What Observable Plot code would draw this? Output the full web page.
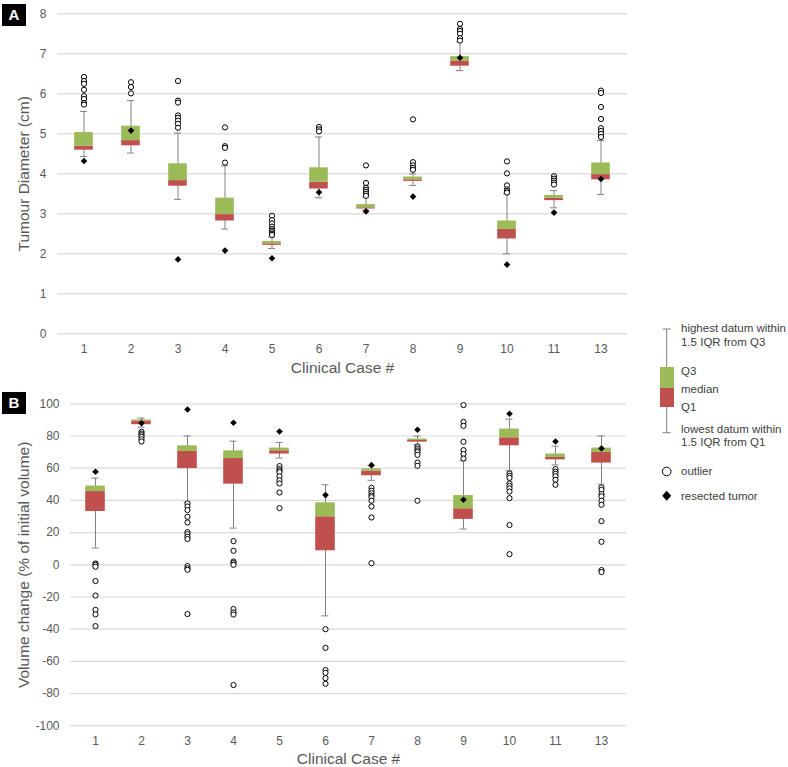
<!DOCTYPE html>
<html><head><meta charset="utf-8">
<script src="https://cdn.jsdelivr.net/npm/d3@7"></script>
<script src="https://cdn.jsdelivr.net/npm/@observablehq/plot@0.6"></script>
<style>
body{margin:0;background:#fff;}
#wrap{position:relative;width:788px;height:767px;font-family:"Liberation Sans",Arial,sans-serif;background:#fff;overflow:hidden;}
#wrap > svg, #wrap > figure{position:absolute;margin:0;}
.tag{position:absolute;left:2px;width:24px;height:22px;background:#000;color:#fff;font:bold 15px "Liberation Sans",Arial,sans-serif;text-align:center;line-height:22px;}
g[aria-label="x-axis label"] text, g[aria-label="y-axis label"] text{font-size:15.5px;}
</style></head><body><div id="wrap"></div>
<script>
// ---- data ----
const cases = ["1","2","3","4","5","6","7","8","9","10","11","13"];

// Panel A: tumour diameter (cm)
const diamQ1       = [4.59,4.70,3.69,2.82,2.21,3.62,3.12,3.81,6.69,2.37,3.33,3.85];
const diamMedian   = [4.69,4.83,3.83,2.98,2.25,3.79,3.15,3.85,6.82,2.61,3.39,3.98];
const diamQ3       = [5.03,5.19,4.25,3.39,2.31,4.15,3.23,3.92,6.93,2.82,3.46,4.27];
const diamLow      = [4.43,4.52,3.36,2.62,2.13,3.40,3.09,3.71,6.58,2.00,3.15,3.48];
const diamHigh     = [5.56,5.83,5.02,4.20,2.42,4.92,3.42,4.00,7.30,3.50,3.58,4.83];
const diamResected = [4.32,5.08,1.86,2.08,1.89,3.54,3.06,3.43,6.90,1.73,3.03,3.87];
const diamOutliers = [
  [6.42,6.32,6.25,6.10,5.94,5.87,5.77,5.73],
  [6.29,6.17,6.01],
  [6.32,5.83,5.78,5.46,5.40,5.33,5.25,5.15],
  [5.16,4.69,4.65,4.28],
  [2.95,2.84,2.76,2.68,2.62,2.58,2.54,2.50,2.47],
  [5.17,5.11,5.06],
  [4.21,3.77,3.65,3.60,3.55,3.50,3.45],
  [5.36,4.29,4.21,4.15,4.10],
  [7.75,7.62,7.57,7.50,7.39,7.33],
  [4.31,4.01,3.71,3.61,3.57,3.53],
  [3.94,3.88,3.83,3.78,3.73],
  [6.08,6.02,5.67,5.37,5.14,5.07,5.00,4.92]
];
const diamTicks = [0,1,2,3,4,5,6,7,8];

// Panel B: volume change (% of initial volume)
const volQ1       = [33.1,87.0,59.8,50.1,68.8,8.7,55.3,76.2,28.2,73.9,65.2,63.2];
const volMedian   = [45.5,89.2,70.4,66.0,70.8,29.8,58.2,77.2,34.8,78.9,66.7,69.8];
const volQ3       = [48.9,90.0,73.9,70.8,72.5,38.5,59.6,78.1,43.0,84.3,68.8,72.5];
const volLow      = [10.4,85.5,39.0,22.8,66.3,-31.7,52.5,74.5,22.2,58.4,62.0,50.1];
const volHigh     = [53.9,91.1,80.0,76.8,76.0,49.7,61.5,79.9,64.6,90.5,73.7,80.0];
const volResected = [57.8,88.0,96.5,88.2,82.8,43.3,61.9,83.9,40.4,93.8,76.6,72.3];
const volOutliers = [
  [0.8,0,-1.2,-10.1,-19.1,-28,-30.8,-38.1],
  [82.6,81.5,80.5,79.5,78,76.6],
  [38.1,36.2,34,29.8,26.3,20.3,19,17.4,16,-0.8,-2.2,-3.1,-30.6],
  [14.7,8.7,2,1.1,0,-27.5,-29.6,-30.9,-74.7],
  [61.3,59.5,58.5,57.5,54.9,52.5,50.5,44.9,35.2],
  [-40,-51.6,-65.4,-67.1,-70.4,-73.9],
  [47.8,46,44.5,43,42,39.8,36.2,29.4,1.0],
  [73.5,72.2,71,70,68.3,63.5,61.5,39.8],
  [99.2,88.8,86.3,76.4,71.2,68.8,66],
  [56.7,55.3,54,50.5,49,47.5,45.5,41.4,24.7,6.6],
  [59.4,57.8,56.5,55,52.8,49.7],
  [48,46.5,43.9,42.5,39.8,37.3,27.1,14.3,-3.3,-4.5]
];
const volTicks = [-100,-80,-60,-40,-20,0,20,40,60,80,100];

const xLabel = "Clinical Case #";
const legendLabels = ["highest datum within","1.5 IQR from Q3","Q3","median","Q1","lowest datum within","1.5 IQR from Q1","outlier","resected tumor"];

// ---- colours ----
const GREEN = "#9bbb59", RED = "#c0504d", WHISK = "#808080", GRID = "#d9d9d9", TXT = "#595959";

// square diamond symbol (rotated square)
const squareDiamond = {
  draw(ctx, size) {
    const h = Math.sqrt(size / Math.PI);
    ctx.moveTo(0, -h); ctx.lineTo(h, 0); ctx.lineTo(0, h); ctx.lineTo(-h, 0); ctx.closePath();
  }
};

function panel(o) {
  const rows = cases.map((c, i) => ({c, q1: o.q1[i], med: o.med[i], q3: o.q3[i], lo: o.lo[i], hi: o.hi[i], res: o.res[i]}));
  const outs = cases.flatMap((c, i) => o.out[i].map(v => ({c, v})));
  return Plot.plot({
    width: 640, height: o.height,
    marginLeft: o.ml, marginRight: o.mr, marginTop: o.mt, marginBottom: o.mb,
    style: {fontFamily: '"Liberation Sans", Arial, sans-serif', fontSize: "12px", color: TXT, background: "transparent", overflow: "visible"},
    x: {domain: cases, padding: 0},
    y: {domain: o.domain},
    marks: [
      Plot.gridY(o.ticks, {stroke: GRID, strokeOpacity: 1, strokeWidth: 1.2}),
      Plot.axisY(o.ticks, {tickSize: 0, tickPadding: 11, tickFormat: d => String(d), label: o.yLabel, labelAnchor: "center", labelArrow: "none", labelOffset: o.ylo}),
      Plot.axisX({tickSize: 0, tickPadding: 11, label: xLabel, labelAnchor: "center", labelArrow: "none", labelOffset: o.xlo}),
      Plot.ruleX(rows, {x: "c", y1: "lo", y2: "hi", stroke: WHISK, strokeWidth: 1}),
      Plot.tickY(rows, {x: "c", y: "lo", stroke: WHISK, insetLeft: o.cap, insetRight: o.cap}),
      Plot.tickY(rows, {x: "c", y: "hi", stroke: WHISK, insetLeft: o.cap, insetRight: o.cap}),
      Plot.barY(rows, {x: "c", y1: "q1", y2: "med", fill: RED, insetLeft: o.box, insetRight: o.box}),
      Plot.barY(rows, {x: "c", y1: "med", y2: "q3", fill: GREEN, insetLeft: o.box, insetRight: o.box}),
      Plot.dot(outs, {x: "c", y: "v", r: 2.6, stroke: "#000", fill: "#fff", strokeWidth: 1}),
      Plot.dot(rows, {x: "c", y: "res", symbol: squareDiamond, r: 3.3, fill: "#000", stroke: "none"})
    ]
  });
}

const wrap = document.getElementById("wrap");

const A = panel({q1: diamQ1, med: diamMedian, q3: diamQ3, lo: diamLow, hi: diamHigh, res: diamResected, out: diamOutliers,
  domain: [0, 8], ticks: diamTicks, yLabel: "Tumour Diameter (cm)",
  height: 385, ml: 57, mr: 13, mt: 13.3, mb: 51.7, ylo: 40, xlo: 39, box: 14.2, cap: 20});
A.style.left = "0px"; A.style.top = "0px";
wrap.appendChild(A);

const B = panel({q1: volQ1, med: volMedian, q3: volQ3, lo: volLow, hi: volHigh, res: volResected, out: volOutliers,
  domain: [-100, 100], ticks: volTicks, yLabel: "Volume change (% of initial volume)",
  height: 382, ml: 70, mr: 14, mt: 18.3, mb: 41.7, ylo: 53, xlo: 38, box: 13.2, cap: 19.5});
B.style.left = "0px"; B.style.top = "385px";
wrap.appendChild(B);

// panel tags
[["A", 4], ["B", 392]].forEach(([t, y]) => {
  const d = document.createElement("div");
  d.className = "tag"; d.textContent = t; d.style.top = y + "px";
  wrap.appendChild(d);
});

// legend
const L = d3.create("svg").attr("width", 148).attr("height", 220)
  .style("left", "640px").style("top", "300px")
  .attr("font-family", '"Liberation Sans", Arial, sans-serif').attr("font-size", 11.5).attr("fill", "#404040");
const cx = 26.7;
L.append("line").attr("x1", cx).attr("x2", cx).attr("y1", 29).attr("y2", 132.7).attr("stroke", WHISK);
L.append("line").attr("x1", cx - 4).attr("x2", cx + 4).attr("y1", 29).attr("y2", 29).attr("stroke", WHISK);
L.append("line").attr("x1", cx - 4).attr("x2", cx + 4).attr("y1", 132.7).attr("y2", 132.7).attr("stroke", WHISK);
L.append("rect").attr("x", 20).attr("width", 14).attr("y", 67).attr("height", 21).attr("fill", GREEN);
L.append("rect").attr("x", 20).attr("width", 14).attr("y", 88).attr("height", 19).attr("fill", RED);
L.append("circle").attr("cx", cx).attr("cy", 171.5).attr("r", 4.3).attr("fill", "#fff").attr("stroke", "#000");
L.append("path").attr("d", `M${cx},${195.7-5}L${cx+4.5},195.7L${cx},${195.7+5}L${cx-4.5},195.7Z`).attr("fill", "#000");
const ly = [27.5, 42, 71, 89, 107, 129, 142, 171, 196];
legendLabels.forEach((t, i) => {
  L.append("text").attr("x", 41).attr("y", ly[i]).attr("dy", "0.35em").text(t);
});
wrap.appendChild(L.node());
</script>
</body></html>
